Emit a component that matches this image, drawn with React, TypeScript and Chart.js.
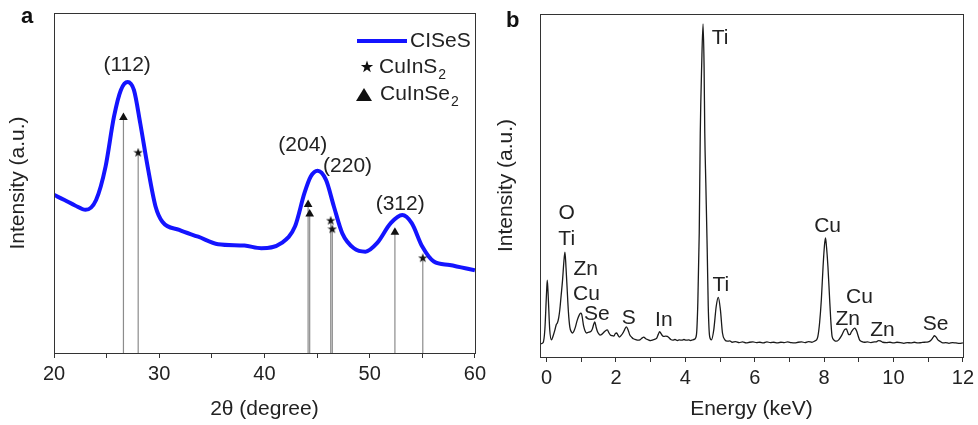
import React, { useEffect, useRef } from "react";
import { Chart, registerables } from "chart.js";
Chart.register(...registerables);

const FONT = '"Liberation Sans", Arial, Helvetica, sans-serif';
const TEXT = "#222";
const AXIS = "#333";

// ---------- Panel a: XRD ----------
const xrdAngle = [20, 21, 22, 23, 24, 24.9, 25.7, 26.35, 27.0, 27.6, 28.2, 28.9, 29.65, 30.3, 31.9, 33.7, 35.6, 38.1, 39.7, 41.6, 42.9, 43.8, 44.4, 45.05, 45.85, 46.6, 47.4, 48.5, 49.6, 50.7, 52.0, 53.1, 54.0, 55.0, 56.1, 57.6, 60];
const xrdIntensity = [46.5, 45.0, 43.4, 42.1, 45.0, 54.8, 69.5, 77.3, 79.7, 77.3, 67.5, 54.8, 43.1, 38.6, 36.2, 34.2, 32.0, 31.6, 30.8, 32.3, 37.2, 47.0, 51.9, 53.6, 50.9, 43.1, 35.2, 30.8, 29.8, 32.3, 38.2, 40.6, 38.2, 31.3, 26.9, 25.9, 24.3];
const cuInS2Angle = [28.0, 46.3, 46.45, 55.05];
const cuInS2Height = [58.9, 38.9, 36.4, 27.9];
const cuInSe2Angle = [26.6, 44.15, 44.3, 52.4];
const cuInSe2Height = [69.3, 43.7, 40.9, 35.5];
const peakLabels = ["(112)", "(204)", "(220)", "(312)"];
const peakLabelAngle = [26.95, 43.65, 47.9, 52.9];
const peakLabelHeight = [84.5, 61.0, 54.8, 43.9];
const xrdTicks = [20, 25, 30, 35, 40, 45, 50, 55, 60];
const xrdTickLabels = [20, 30, 40, 50, 60];

// ---------- Panel b: EDS ----------
const edsEnergy = [-0.19, -0.1, -0.05, 0.0, 0.02, 0.05, 0.09, 0.14, 0.19, 0.24, 0.28, 0.31, 0.35, 0.38, 0.42, 0.46, 0.5, 0.53, 0.56, 0.59, 0.63, 0.67, 0.71, 0.75, 0.79, 0.83, 0.88, 0.94, 0.98, 1.01, 1.07, 1.11, 1.15, 1.2, 1.25, 1.29, 1.32, 1.36, 1.39, 1.43, 1.46, 1.5, 1.54, 1.59, 1.63, 1.69, 1.75, 1.8, 1.84, 1.89, 1.94, 1.98, 2.02, 2.06, 2.1, 2.15, 2.2, 2.25, 2.3, 2.35, 2.4, 2.45, 2.5, 2.57, 2.63, 2.69, 2.75, 2.8, 2.86, 2.93, 3.0, 3.07, 3.13, 3.18, 3.22, 3.26, 3.3, 3.34, 3.39, 3.43, 3.48, 3.53, 3.58, 3.64, 3.7, 3.77, 3.83, 3.9, 3.96, 4.02, 4.09, 4.15, 4.21, 4.27, 4.32, 4.36, 4.4, 4.43, 4.47, 4.51, 4.54, 4.56, 4.59, 4.63, 4.66, 4.7, 4.75, 4.82, 4.89, 4.95, 5.01, 5.07, 5.14, 5.21, 5.28, 5.35, 5.45, 5.55, 5.65, 5.75, 5.85, 5.95, 6.05, 6.15, 6.25, 6.35, 6.45, 6.55, 6.65, 6.75, 6.85, 6.95, 7.05, 7.15, 7.25, 7.35, 7.45, 7.55, 7.65, 7.72, 7.78, 7.82, 7.87, 7.92, 7.97, 8.01, 8.04, 8.07, 8.11, 8.16, 8.2, 8.23, 8.29, 8.35, 8.42, 8.49, 8.55, 8.59, 8.64, 8.68, 8.71, 8.75, 8.78, 8.83, 8.88, 8.91, 8.94, 8.98, 9.02, 9.09, 9.16, 9.25, 9.35, 9.45, 9.52, 9.57, 9.62, 9.69, 9.8, 9.9, 10.0, 10.1, 10.2, 10.3, 10.4, 10.5, 10.6, 10.7, 10.8, 10.9, 11.0, 11.08, 11.14, 11.18, 11.23, 11.28, 11.35, 11.42, 11.5, 11.6, 11.7, 11.8, 11.9, 12.0];
const edsCounts = [3.8, 4.2, 8, 19, 22.4, 17, 8, 5.0, 6.2, 7.9, 9.5, 9.9, 11.5, 13.7, 18, 22.4, 28, 30.6, 26, 20.4, 13, 8.7, 7.4, 7.0, 7.6, 8.7, 10.6, 12.2, 12.8, 12.5, 8.9, 7.6, 7.0, 7.2, 7.3, 7.6, 8.2, 9.6, 10.2, 8.6, 7.6, 6.8, 6.4, 6.6, 7.0, 7.6, 7.9, 7.0, 6.4, 6.2, 6.1, 6.8, 7.0, 6.3, 5.8, 6.3, 7.0, 8.0, 8.8, 7.9, 6.4, 5.8, 5.3, 5.1, 4.9, 5.0, 5.5, 5.8, 5.3, 5.0, 4.8, 5.0, 5.2, 5.6, 6.6, 7.4, 6.8, 6.2, 6.0, 6.1, 6.0, 5.6, 5.1, 4.9, 5.1, 4.8, 5.0, 4.9, 5.1, 4.9, 5.0, 4.8, 5.0, 5.2, 6.5, 16, 36.1, 65.2, 84.7, 97.1, 84.7, 65.2, 50.7, 31.3, 14.8, 6.0, 5.0, 8.0, 14.8, 17.4, 13.8, 7.0, 5.0, 4.6, 4.7, 4.3, 4.5, 4.2, 4.4, 4.1, 4.3, 4.4, 4.2, 4.3, 4.1, 4.4, 4.2, 4.3, 4.1, 4.3, 4.2, 4.4, 4.2, 4.1, 4.3, 4.4, 4.2, 4.5, 4.3, 4.6, 5.0, 6.0, 10, 16.7, 26.4, 32.5, 34.7, 32, 26.4, 16.7, 9.5, 6.0, 4.9, 4.6, 5.0, 6.0, 7.2, 8.0, 8.2, 7.2, 6.5, 6.6, 7.2, 8.0, 8.4, 8.1, 7.5, 6.2, 5.0, 4.5, 4.3, 4.4, 4.2, 4.4, 4.5, 4.8, 4.7, 4.3, 4.2, 4.3, 4.1, 4.3, 4.2, 4.0, 4.2, 4.1, 4.3, 4.1, 4.2, 4.3, 4.4, 4.9, 5.7, 6.2, 5.8, 5.0, 4.5, 4.1, 4.2, 4.0, 4.2, 4.1, 4.0, 4.1];
const edsLabels = ["O", "Ti", "Zn", "Cu", "Se", "S", "In", "Ti", "Ti", "Cu", "Cu", "Zn", "Zn", "Se"];
const edsLabelEnergy = [0.58, 0.58, 1.13, 1.15, 1.45, 2.37, 3.38, 5.0, 5.02, 8.1, 9.02, 8.68, 9.68, 11.21];
const edsLabelCounts = [42.0, 34.4, 25.7, 18.4, 12.5, 11.4, 10.8, 93.0, 21.0, 38.2, 17.5, 11.1, 7.9, 9.6];
const edsTicks = [0, 1, 2, 3, 4, 5, 6, 7, 8, 9, 10, 11, 12];
const edsTickLabels = [0, 2, 4, 6, 8, 10, 12];

function makeStar(size: number) {
  const c = document.createElement("canvas");
  c.width = size;
  c.height = size;
  const ctx = c.getContext("2d")!;
  drawStar(ctx, size / 2, size / 2, size / 2, size / 5);
  return c;
}
function drawStar(ctx: CanvasRenderingContext2D, cx: number, cy: number, ro: number, ri: number) {
  ctx.beginPath();
  for (let i = 0; i < 10; i++) {
    const r = i % 2 === 0 ? ro : ri;
    const a = -Math.PI / 2 + (i * Math.PI) / 5;
    const px = cx + r * Math.cos(a);
    const py = cy + r * Math.sin(a);
    if (i === 0) ctx.moveTo(px, py);
    else ctx.lineTo(px, py);
  }
  ctx.closePath();
  ctx.fillStyle = "#111";
  ctx.fill();
}

function sticks(xs: number[], hs: number[]) {
  const out: any[] = [];
  xs.forEach((x, i) => {
    out.push({ x, y: 0 }, { x, y: hs[i] }, { x, y: null });
  });
  return out;
}

function boxAndText(letter: string, lx: number, ly: number, labels: string[], lxv: number[], lyv: number[], extra?: (ctx: CanvasRenderingContext2D) => void) {
  return {
    id: "decor" + letter,
    afterDraw(chart: any) {
      const ctx: CanvasRenderingContext2D = chart.ctx;
      const a = chart.chartArea;
      ctx.save();
      ctx.strokeStyle = AXIS;
      ctx.lineWidth = 1;
      ctx.strokeRect(Math.round(a.left) + 0.5, Math.round(a.top) + 0.5, Math.round(a.right - a.left), Math.round(a.bottom - a.top));
      ctx.fillStyle = "#111";
      ctx.font = "bold 22px " + FONT;
      ctx.textAlign = "left";
      ctx.textBaseline = "alphabetic";
      ctx.fillText(letter, lx, ly);
      ctx.fillStyle = TEXT;
      ctx.font = "21px " + FONT;
      ctx.textAlign = "center";
      ctx.textBaseline = "middle";
      const xs = chart.scales.x;
      const ys = chart.scales.y;
      labels.forEach((t, i) => {
        ctx.fillText(t, xs.getPixelForValue(lxv[i]), ys.getPixelForValue(lyv[i]));
      });
      if (extra) extra(ctx);
      ctx.restore();
    },
  };
}

function legendA(ctx: CanvasRenderingContext2D) {
  ctx.strokeStyle = "#1414ff";
  ctx.lineWidth = 4;
  ctx.beginPath();
  ctx.moveTo(357, 41);
  ctx.lineTo(407, 41);
  ctx.stroke();
  ctx.fillStyle = TEXT;
  ctx.textAlign = "left";
  ctx.textBaseline = "middle";
  ctx.font = "21px " + FONT;
  ctx.fillText("CISeS", 410, 41);
  drawStar(ctx, 367, 67, 6.5, 2.6);
  ctx.fillStyle = TEXT;
  ctx.font = "21px " + FONT;
  ctx.fillText("CuInS", 379, 67);
  let w = ctx.measureText("CuInS").width;
  ctx.font = "14px " + FONT;
  ctx.fillText("2", 379 + w + 1, 75);
  ctx.fillStyle = "#111";
  ctx.beginPath();
  ctx.moveTo(364, 88);
  ctx.lineTo(372, 101);
  ctx.lineTo(356, 101);
  ctx.closePath();
  ctx.fill();
  ctx.fillStyle = TEXT;
  ctx.font = "21px " + FONT;
  ctx.fillText("CuInSe", 380, 94);
  w = ctx.measureText("CuInSe").width;
  ctx.font = "14px " + FONT;
  ctx.fillText("2", 380 + w + 1, 102);
}

function axisBase(min: number, max: number, tickVals: number[], tickLabels: number[], title: string, height: number) {
  return {
    type: "linear" as const,
    min,
    max,
    bounds: "data" as const,
    afterBuildTicks: (s: any) => {
      s.ticks = tickVals.map((v) => ({ value: v }));
    },
    afterFit: (s: any) => {
      s.height = height;
    },
    ticks: {
      autoSkip: false,
      maxRotation: 0,
      minRotation: 0,
      padding: 4,
      color: TEXT,
      font: { family: FONT, size: 20 },
      callback: (v: any) => (tickLabels.includes(Number(v)) ? String(v) : ""),
    },
    grid: { display: true, drawOnChartArea: false, drawTicks: true, tickLength: 5, color: AXIS, lineWidth: 1 },
    border: { display: true, color: AXIS, width: 1 },
    title: { display: true, text: title, color: TEXT, font: { family: FONT, size: 21 }, padding: 0 },
  };
}

function yAxis(width: number) {
  return {
    type: "linear" as const,
    min: 0,
    max: 100,
    afterFit: (s: any) => {
      s.width = width;
    },
    ticks: { display: false },
    grid: { display: false, drawTicks: false },
    border: { display: true, color: AXIS, width: 1 },
    title: { display: true, text: "Intensity (a.u.)", color: TEXT, font: { family: FONT, size: 21 }, padding: 0 },
  };
}

export default function App() {
  const refA = useRef<HTMLCanvasElement>(null);
  const refB = useRef<HTMLCanvasElement>(null);

  useEffect(() => {
    document.body.style.margin = "0";
    const star = makeStar(10);
    const chartA = new Chart(refA.current!, {
      type: "line",
      data: {
        datasets: [
          {
            type: "line",
            label: "CISeS",
            data: xrdAngle.map((x, i) => ({ x, y: xrdIntensity[i] })),
            borderColor: "#1414ff",
            borderWidth: 4,
            pointRadius: 0,
            cubicInterpolationMode: "monotone",
            order: 3,
          } as any,
          {
            type: "line",
            data: sticks(cuInSe2Angle, cuInSe2Height),
            borderColor: "#8c8c8c",
            borderWidth: 1.2,
            pointRadius: 0,
            spanGaps: false,
            order: 2,
          },
          {
            type: "line",
            data: sticks(cuInS2Angle, cuInS2Height),
            borderColor: "#8c8c8c",
            borderWidth: 1.2,
            pointRadius: 0,
            spanGaps: false,
            order: 2,
          },
          {
            type: "scatter",
            data: cuInSe2Angle.map((x, i) => ({ x, y: cuInSe2Height[i] })),
            pointStyle: "triangle",
            pointRadius: 5,
            backgroundColor: "#111",
            borderColor: "#111",
            borderWidth: 0,
            order: 1,
          },
          {
            type: "scatter",
            data: cuInS2Angle.map((x, i) => ({ x, y: cuInS2Height[i] })),
            pointStyle: star,
            pointRadius: 5,
            order: 1,
          },
        ],
      },
      options: {
        animation: false,
        responsive: false,
        maintainAspectRatio: false,
        layout: { padding: { left: 6, right: 12, top: 13, bottom: 3 } },
        plugins: { legend: { display: false }, tooltip: { enabled: false } },
        scales: {
          x: axisBase(20, 60, xrdTicks, xrdTickLabels, "2θ (degree)", 69) as any,
          y: yAxis(48) as any,
        },
      },
      plugins: [boxAndText("a", 21, 23, peakLabels, peakLabelAngle, peakLabelHeight, legendA)],
    });

    const chartB = new Chart(refB.current!, {
      type: "line",
      data: {
        datasets: [
          {
            type: "line",
            data: edsEnergy.map((x, i) => ({ x, y: edsCounts[i] })),
            borderColor: "#1a1a1a",
            borderWidth: 1.3,
            pointRadius: 0,
            cubicInterpolationMode: "monotone",
          } as any,
        ],
      },
      options: {
        animation: false,
        responsive: false,
        maintainAspectRatio: false,
        layout: { padding: { left: 4, right: 15, top: 14, bottom: 3 } },
        plugins: { legend: { display: false }, tooltip: { enabled: false } },
        scales: {
          x: axisBase(-0.19, 12, edsTicks, edsTickLabels, "Energy (keV)", 65) as any,
          y: yAxis(46) as any,
        },
      },
      plugins: [boxAndText("b", 16, 27, edsLabels, edsLabelEnergy, edsLabelCounts)],
    });

    return () => {
      chartA.destroy();
      chartB.destroy();
    };
  }, []);

  return (
    <div style={{ position: "absolute", left: 0, top: 0, width: 978, height: 425, background: "#fff" }}>
      <canvas ref={refA} width={490} height={425} style={{ position: "absolute", left: 0, top: 0, width: 490, height: 425 }} />
      <canvas ref={refB} width={488} height={425} style={{ position: "absolute", left: 490, top: 0, width: 488, height: 425 }} />
    </div>
  );
}
